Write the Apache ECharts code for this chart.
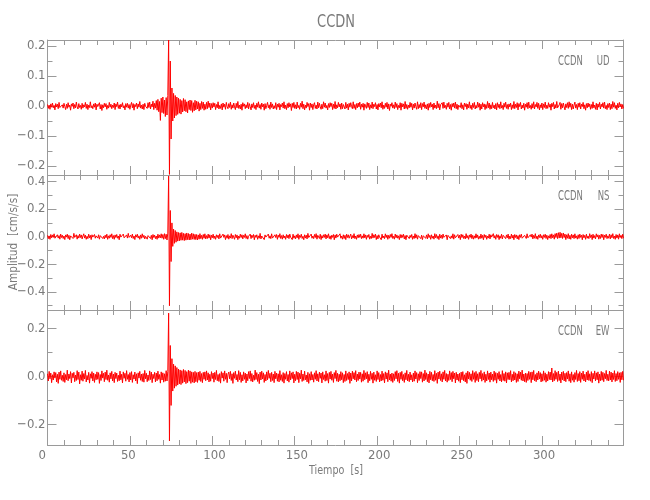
<!DOCTYPE html>
<html><head><meta charset="utf-8">
<script src="https://cdn.jsdelivr.net/npm/echarts@6/dist/echarts.min.js"></script>
<style>html,body{margin:0;padding:0;background:#fff}#c{width:650px;height:500px}</style>
</head><body><div id="c"></div>
<script>
// ---------------- data ----------------
const station = 'CCDN';
const components = ['UD', 'NS', 'EW'];
const sampleInterval = 0.5;      // s between samples
const unit = 0.001;              // values below are in 0.001 cm/s/s
const xMax = 349.5;
// vertical axis extents per panel (cm/s/s)
const yExtents = [[-0.23, 0.22], [-0.531, 0.447], [-0.285, 0.278]];
const yLabelStep = [0.1, 0.2, 0.2];
const yMinorStep = [0.05, 0.1, 0.1];
const xLabelStep = 50, xMinorStep = 10;

const ud = [
5,-8,3,-11,7,-4,10,-6,2,-13,8,-3,6,-9,12,-5,1,-10,4,-7,
9,-2,-12,6,-8,11,-4,3,-14,7,-1,10,-9,5,-6,13,-3,-10,8,-5,
2,-11,9,-7,4,-3,12,-8,6,-12,3,-5,14,-6,1,-9,7,-4,10,-13,
6,-2,-8,11,-10,5,-15,4,-6,9,-3,8,-11,2,-7,12,-4,6,-9,3,
-5,10,-12,7,-2,13,-8,4,-10,6,-3,11,-6,1,-13,8,-4,9,-7,5,
-11,3,12,-6,8,-14,5,-2,10,-9,7,-4,15,-7,3,-10,6,-12,9,-1,
4,-8,11,-5,13,-10,6,-3,16,-12,9,-7,18,-14,22,-19,15,-48,26,-22,
30,-25,20,-35,28,-30,35,220,-228,150,-110,60,-50,42,-40,35,-32,30,-28,26,
-24,22,-27,18,-20,25,-16,21,-19,14,-23,17,-12,20,-15,18,-21,11,-16,19,
-13,16,-10,14,-17,9,-12,15,-8,13,-14,6,-11,12,-9,16,-5,10,-13,8,
-7,11,-3,9,-12,5,-6,14,-10,2,-8,7,-13,10,-4,6,-11,12,-2,-9,
8,-5,13,-11,4,-7,10,-3,-12,9,-6,15,-8,3,-10,6,-14,11,-1,7,
-9,4,-6,12,-10,8,-2,-13,7,-5,11,-8,3,-12,9,-4,14,-7,5,-11,
10,-3,6,-14,8,-9,2,12,-6,4,-11,13,-5,7,-10,1,-8,11,-12,6,
-4,9,-13,5,-2,10,-7,14,-9,3,-12,8,-6,11,-3,7,-15,9,-5,12,
-8,4,-10,13,-6,2,-11,9,-4,16,-9,6,-13,3,-7,12,-2,8,-14,10,
-5,7,-12,4,11,-8,3,-10,13,-6,9,-3,-11,6,-9,14,-4,10,-7,2,
-13,8,-5,11,-2,9,-12,6,-8,15,-10,4,-6,12,-3,7,-11,10,-9,5,
3,-10,12,-7,6,-13,9,-4,11,-2,-9,14,-8,5,-12,8,-6,10,-3,13,
-11,6,-4,9,-14,7,2,-8,12,-5,10,-12,4,-7,13,-9,6,-2,11,-10,
5,-13,8,-3,10,-6,14,-11,3,-8,9,-4,12,-10,7,-15,6,-1,11,-7,
4,-9,13,-5,8,-12,2,-6,11,-14,9,-3,7,-10,15,-8,5,-11,3,-6,
12,-4,9,-13,6,-7,10,-2,-11,14,-9,5,-6,11,-12,8,-3,13,-8,4,
-10,7,-14,9,-5,12,-3,6,-12,10,-7,3,-9,16,-6,8,-13,4,-2,11,
-8,13,-6,2,-11,9,-4,12,-10,5,-14,8,-3,10,-7,13,-9,6,-12,3,
7,-5,11,-9,4,-13,10,-2,8,-11,6,-6,14,-8,3,-12,9,-5,12,-10,
2,-7,13,-4,9,-14,6,-10,11,-3,7,-12,5,-8,15,-6,10,-11,4,-9,
12,-6,3,-10,8,-13,11,-5,6,-9,14,-7,2,-12,9,-4,13,-8,5,-11,
7,-3,10,-12,4,-8,15,-9,6,-5,11,-13,8,-2,12,-10,3,-7,9,-14,
6,-4,11,-9,13,-6,2,-11,8,-7,14,-10,5,-3,12,-8,9,-13,4,-6,
10,-12,7,-5,13,-9,3,-8,11,-4,6,-14,9,-2,12,-10,5,-7,15,-6,
-9,4,12,-11,8,-6,10,-3,-13,7,-5,11,-8,14,-4,9,-12,6,-10,3,
13,-7,5,-12,9,-4,11,-10,6,-2,12,-9,4,-14,8,-6,10,-3,7,-11,
5,-8,14,-6,3,-11,9,-13,7,-4,12,-10,6,-3,11,-7,13,-9,2,-12,
8,-5,10,-12,6,-9,15,-4,11,-8,3,-13,9,-6,12,-2,7,-10,5,-8
];

const ns = [
10,-14,6,-19,16,-8,13,-5,21,-11,3,-16,14,-10,8,-18,19,-6,11,-13,
5,-21,13,-3,18,-14,10,-22,6,-8,16,-13,24,-5,-11,14,-18,8,-10,19,
-6,13,-16,5,21,-10,11,-19,3,-14,18,-8,10,-21,14,-3,-13,16,-11,6,
19,-10,14,-18,8,-5,22,-13,3,-16,11,-8,18,-19,6,-11,14,-5,21,-14,
8,-19,13,-6,16,-11,5,-22,18,-3,10,-14,19,-8,6,-18,13,-10,24,-5,
-16,11,-8,19,-13,5,-21,14,-3,18,-10,6,-19,13,-11,21,-6,10,-16,3,
14,-18,8,-5,19,-13,10,-22,16,-6,11,-14,5,-19,18,-10,13,-8,21,-11,
16,-19,22,-14,18,-24,26,440,-500,190,-180,100,-70,55,-48,45,-40,35,-32,30,
-30,28,-26,31,-25,24,-28,22,-25,27,-21,23,-24,19,-22,26,-18,21,-20,17,
-21,16,-24,13,-18,22,-14,10,-19,16,-11,21,-16,8,-13,19,-10,14,-22,11,
-8,18,-13,5,-19,14,-6,11,-16,21,-10,3,-14,19,-5,13,-21,8,-11,16,
-18,6,-10,22,-14,11,-3,-19,16,-8,13,-21,5,-11,18,-6,14,-16,10,-5,
21,-13,8,-18,3,-10,19,-14,11,-6,16,-22,10,-5,14,-19,6,-11,24,-16,
5,-8,18,-21,13,-3,10,-16,19,-11,6,-14,21,-10,3,-18,14,-6,16,-19,
11,-5,22,-13,8,-18,14,-10,5,-19,16,-8,13,-14,19,-3,10,-21,18,-11,
6,-16,13,-8,21,-19,10,-5,18,-13,3,-22,14,-10,11,-16,24,-6,8,-18,
19,-11,5,-14,16,-6,22,-18,10,-3,-13,18,-21,8,-10,14,-5,19,-16,13,
-8,21,-14,6,-19,11,-5,16,-22,13,-10,18,-3,8,-16,21,-11,5,-18,14,
-13,10,-21,18,-6,14,-11,3,19,-16,8,-10,22,-14,5,-19,13,-8,16,-5,
18,-14,6,-11,21,-8,13,-19,10,-5,16,-18,3,-13,24,-10,14,-6,19,-21,
8,-16,14,-3,11,-22,18,-10,5,-14,21,-6,13,-19,10,-11,16,-5,22,-13,
3,-18,19,-8,13,-11,6,-21,16,-10,14,-5,18,-16,8,-22,11,-3,21,-14,
10,-6,16,-19,5,-13,22,-10,14,-18,8,-3,19,-14,11,-21,6,-8,18,-11,
13,-16,21,-6,10,-19,14,-11,5,-18,22,-8,16,-13,6,-21,18,-10,11,-14,
19,-5,8,-16,13,-22,10,-3,18,-14,6,-11,21,-18,14,-8,3,-19,16,-10,
11,-21,18,-6,14,-13,5,-16,22,-10,8,-19,13,-5,19,-14,10,-18,6,-11,
21,-8,13,-18,3,-14,19,-11,10,-22,16,-6,11,-19,5,-10,18,-16,14,-3,
-13,22,-10,8,-19,16,-5,14,-21,6,-11,18,-16,10,-3,21,-14,13,-8,19,
-18,5,-14,19,-10,11,-22,16,-6,13,-16,8,-21,14,-5,18,-11,3,-19,10,
16,-13,21,-8,6,-18,14,-3,19,-16,10,-11,22,-14,5,-19,13,-6,18,-10,
8,-19,14,-5,18,-13,11,-21,6,-10,16,-14,21,-8,13,-18,22,-6,26,-14,
29,-10,32,-8,24,-13,27,-6,19,-21,14,-11,22,-16,10,-19,18,-8,13,-14,
21,-10,6,-18,14,-13,19,-5,11,-22,16,-8,10,-19,18,-11,5,-14,22,-6,
13,-21,18,-10,8,-16,21,-3,14,-18,10,-13,19,-6,16,-22,11,-5,18,-14,
6,-11,19,-16,14,-8,22,-13,5,-19,16,-10,13,-18,21,-6,10,-14,18,-11
];

const ew = [
12,-18,22,-9,15,-25,8,-14,20,-6,17,-22,10,-28,19,-11,24,-15,6,-20,
16,-24,9,-13,27,-17,11,-8,21,-26,14,-5,18,-21,7,-16,25,-12,19,-30,
8,-15,23,-19,13,-10,26,-22,5,-14,18,-27,12,-7,21,-18,15,-24,10,-13,
20,-11,17,-28,9,-16,24,-6,14,-21,19,-12,27,-15,7,-23,16,-9,22,-18,
11,-25,18,-8,15,-20,6,-17,23,-13,10,-26,20,-7,14,-19,25,-11,9,-22,
17,-14,21,-24,8,-10,19,-18,12,-29,16,-6,22,-15,11,-20,13,-23,26,-9,
14,-21,7,-16,24,-12,19,-25,10,-8,18,-22,15,-17,23,-11,9,-27,20,-14,
16,-23,12,-19,25,-18,22,265,-268,130,-120,75,-60,52,-48,45,-40,38,-35,32,
-30,28,-33,25,-27,30,-22,26,-29,21,-25,27,-19,24,-28,20,-23,18,-26,22,
-21,17,-24,19,-15,22,-20,13,-25,18,-11,20,-17,24,-14,16,-22,10,-19,21,
-8,15,-23,18,-12,26,-17,9,-20,13,-27,21,-6,16,-19,24,-11,14,-25,10,
19,-9,22,-16,12,-28,17,-7,23,-14,9,-21,25,-13,18,-24,8,-18,20,-11,
15,-26,11,-17,21,-8,24,-19,13,-22,6,-15,27,-12,17,-20,10,-29,19,-14,
23,-10,16,-24,9,-18,20,-13,26,-7,14,-21,18,-16,11,-25,22,-9,15,-19,
12,-22,25,-15,8,-20,17,-27,13,-11,21,-18,9,-23,24,-14,16,-8,20,-26,
10,-17,22,-12,19,-25,14,-9,27,-20,11,-16,23,-13,7,-22,18,-28,12,-15,
21,-14,9,-23,16,-11,25,-18,12,-21,19,-7,15,-26,20,-12,8,-19,24,-16,
13,-27,18,-10,22,-15,11,-24,17,-8,26,-19,14,-22,10,-17,21,-13,16,-25,
9,-20,24,-16,13,-12,20,-28,15,-18,23,-9,17,-14,25,-21,11,-16,19,-10,
18,-23,12,-19,26,-13,16,-9,21,-25,10,-17,22,-11,14,-27,19,-15,8,-20,
24,-12,17,-22,9,-18,23,-15,13,-26,20,-10,16,-21,27,-14,11,-19,15,-24,
12,-16,21,-9,25,-20,14,-27,18,-11,22,-17,9,-24,16,-13,26,-18,10,-21,
19,-14,8,-22,15,-19,24,-10,17,-25,12,-16,21,-8,20,-23,13,-18,27,-12,
16,-21,11,-26,22,-13,18,-17,9,-20,25,-15,14,-28,19,-10,23,-16,12,-22,
20,-11,26,-18,13,-23,10,-16,24,-12,17,-21,22,-9,15,-26,18,-14,11,-19,
14,-25,19,-13,21,-17,8,-22,16,-28,23,-10,18,-15,12,-20,25,-11,17,-24,
22,-16,12,-21,18,-9,26,-19,13,-14,20,-24,10,-18,24,-12,15,-23,19,-13,
11,-20,23,-15,17,-27,14,-11,21,-18,9,-22,25,-16,13,-19,20,-26,16,-12,
18,-13,25,-22,10,-17,21,-14,16,-24,12,-20,23,-9,19,-15,27,-18,11,-21,
15,-24,13,-16,22,-11,18,-25,20,-13,26,-17,9,-21,16,-14,23,-10,17,-22,
12,-19,24,-15,16,-23,10,-18,21,-12,19,-14,36,-22,13,-17,25,-11,18,-20,
23,-16,11,-26,19,-13,22,-18,14,-21,17,-10,24,-19,12,-25,20,-15,9,-23,
17,-12,26,-20,13,-17,21,-24,15,-11,23,-18,10,-22,19,-14,25,-16,12,-19,
21,-25,14,-10,24,-18,16,-13,20,-27,11,-17,22,-15,18,-21,13,-9,26,-16,
10,-18,23,-14,19,-22,15,-12,25,-20,13,-17,21,-11,16,-24,18,-13,22,-15
];
const traces = [ud, ns, ew];

// ---------------- chart ----------------
const FONT = "'Liberation Sans Narrow','DejaVu Sans Condensed','Liberation Sans',sans-serif";
const AXIS = '#9a9a9a', TEXT = '#7a7a7a';
const PLOT_L = 47.5, PLOT_R = 650 - 623.5, TOPS = [40, 175, 310], PH = 135;

function isMult(v, step) { const q = v / step; return Math.abs(q - Math.round(q)) < 1e-6; }
function fmtY(v) { return (v < -1e-9 ? '\u2212' : '') + Math.abs(v).toFixed(1); }

const grid = TOPS.map(t => ({ left: PLOT_L, right: PLOT_R, top: t, height: PH }));
const xAxis = [], yAxis = [];
TOPS.forEach((t, g) => {
  const last = g === TOPS.length - 1;
  ['bottom', 'top'].forEach(pos => {
    xAxis.push({
      type: 'value', gridIndex: g, position: pos, min: 0, max: xMax, interval: xLabelStep,
      axisLine: { show: true, onZero: false, lineStyle: { color: AXIS, width: 1 } },
      axisTick: { show: true, inside: true, length: 9, lineStyle: { color: AXIS, width: 1 } },
      axisLabel: {
        show: last && pos === 'bottom', margin: 4, color: TEXT, fontFamily: FONT, fontSize: 13,
        formatter: v => isMult(v, xLabelStep) ? '{a|' + Math.round(v) + '}' : '',
        rich: { a: { width: 18, align: 'left', color: TEXT, fontFamily: FONT, fontSize: 13 } }
      },
      splitLine: { show: false }
    });
    xAxis.push({
      type: 'value', gridIndex: g, position: pos, min: 0, max: xMax, interval: xMinorStep,
      axisLine: { show: false, onZero: false },
      axisTick: { show: true, inside: true, length: 5, lineStyle: { color: AXIS, width: 1 } },
      axisLabel: { show: false }, splitLine: { show: false }
    });
  });
  const [ymin, ymax] = yExtents[g];
  const span = ymax - ymin;
  ['left', 'right'].forEach(pos => {
    yAxis.push({
      type: 'value', gridIndex: g, position: pos, min: ymin, max: ymax,
      splitNumber: Math.round(span / yLabelStep[g] * 0.9),
      axisLine: { show: true, onZero: false, lineStyle: { color: AXIS, width: 1 } },
      axisTick: { show: true, inside: true, length: 9, lineStyle: { color: AXIS, width: 1 } },
      axisLabel: {
        show: pos === 'left', margin: 2, color: TEXT, fontFamily: FONT, fontSize: 13,
        formatter: v => isMult(v, yLabelStep[g]) ? fmtY(v) : ''
      },
      splitLine: { show: false }
    });
    yAxis.push({
      type: 'value', gridIndex: g, position: pos, min: ymin, max: ymax,
      splitNumber: Math.round(span / yMinorStep[g] * 0.95),
      axisLine: { show: false, onZero: false },
      axisTick: { show: true, inside: true, length: 5, lineStyle: { color: AXIS, width: 1 } },
      axisLabel: { show: false }, splitLine: { show: false }
    });
  });
});

const series = traces.map((arr, g) => ({
  type: 'line', name: components[g], xAxisIndex: g * 4, yAxisIndex: g * 4,
  data: arr.map((v, i) => [i * sampleInterval, v * unit]),
  symbol: 'none', showSymbol: false, clip: true, silent: true,
  lineStyle: { color: '#ff0000', width: 1 }, z: 1
}));

const txt = (text, x, y, size, align, extra) => Object.assign({
  type: 'text', x: x, y: y, silent: true,
  style: { text: text, fill: TEXT, fontFamily: FONT, fontSize: size, align: align, verticalAlign: 'middle' }
}, extra || {});

const graphic = [
  txt(station, 336, 23, 17, 'center', { scaleX: 0.85 }),
  txt('Tiempo  [s]', 336, 471, 13, 'center', { scaleX: 0.82 }),
  txt('Amplitud  [cm/s/s]', 14, 242, 13, 'center', { rotation: Math.PI / 2, scaleX: 0.9 })
];
TOPS.forEach((t, g) => {
  graphic.push(txt(station, 558, t + 21, 13.5, 'left', { scaleX: 0.7 }));
  graphic.push(txt(components[g], 609.5, t + 21, 13.5, 'right', { scaleX: 0.7 }));
});

const chart = echarts.init(document.getElementById('c'), null, { renderer: 'canvas' });
chart.setOption({
  animation: false, backgroundColor: '#ffffff',
  grid: grid, xAxis: xAxis, yAxis: yAxis, series: series, graphic: graphic
});
</script>
</body></html>
